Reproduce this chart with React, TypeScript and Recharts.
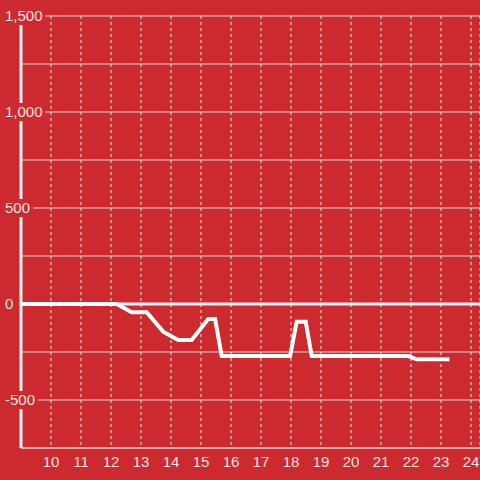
import { CartesianGrid, Line, LineChart, ReferenceLine, XAxis, YAxis } from 'recharts';

const hours = [9, 12.19, 12.69, 13.19, 13.74, 14.24, 14.69, 15.24, 15.47, 15.69, 17.97, 18.19, 18.49, 18.69, 21.91, 22.19, 23.28];
const values = [0, 0, -43, -43, -144, -187, -187, -78, -78, -271, -271, -92, -92, -271, -271, -288, -288];
const xTicks = [10, 11, 12, 13, 14, 15, 16, 17, 18, 19, 20, 21, 22, 23, 24];
const yTicks = [-750, -500, -250, 0, 250, 500, 750, 1000, 1250, 1500];

const BG = '#cd2a2f';
const TEXT = '#f6e4e4';
const FONT = '"Liberation Sans", Arial, sans-serif';

const data = hours.map((h, i) => ({ hour: h, value: values[i] }));

function YTick(props: any) {
  const { y, payload } = props;
  const v = payload.value as number;
  if (v % 500 !== 0) return null;
  const label = v.toLocaleString('en-US');
  let w = 0;
  for (const ch of label) w += ch === ',' ? 4 : ch === '-' ? 5 : 8;
  return (
    <g>
      <rect x={3} y={y - 9} width={w + 6} height={18} fill={BG} />
      <text x={5} y={y} dy="0.35em" textAnchor="start" fill={TEXT} fontSize={15} fontFamily={FONT}>
        {label}
      </text>
    </g>
  );
}

export default function App() {
  return (
    <div style={{ position: 'absolute', left: 0, top: 0, width: 480, height: 480, background: BG, overflow: 'hidden' }}>
      <LineChart width={480} height={480} data={data} margin={{ top: 16, right: 0, bottom: 0, left: 0 }}>
        <CartesianGrid vertical={false} stroke="#d8d8d8" strokeWidth={1} />
        <CartesianGrid horizontal={false} stroke="#e8e8e8" strokeDasharray="3 3" strokeWidth={1} />
        <XAxis
          dataKey="hour"
          type="number"
          domain={[9, 24.3]}
          ticks={xTicks}
          interval={0}
          allowDataOverflow
          height={32}
          tickLine={false}
          axisLine={{ stroke: '#d8d8d8', strokeWidth: 1 }}
          tick={{ fill: TEXT, fontSize: 15, fontFamily: FONT }}
        />
        <YAxis
          type="number"
          domain={[-750, 1500]}
          ticks={yTicks}
          interval={0}
          width={21}
          tickLine={false}
          axisLine={{ stroke: '#f2f2f2', strokeWidth: 3 }}
          tick={<YTick />}
        />
        <ReferenceLine y={0} stroke="#f6f6f6" strokeWidth={3} />
        <Line
          dataKey="value"
          stroke="#ffffff"
          strokeWidth={4}
          dot={false}
          type="linear"
          isAnimationActive={false}
        />
      </LineChart>
    </div>
  );
}
